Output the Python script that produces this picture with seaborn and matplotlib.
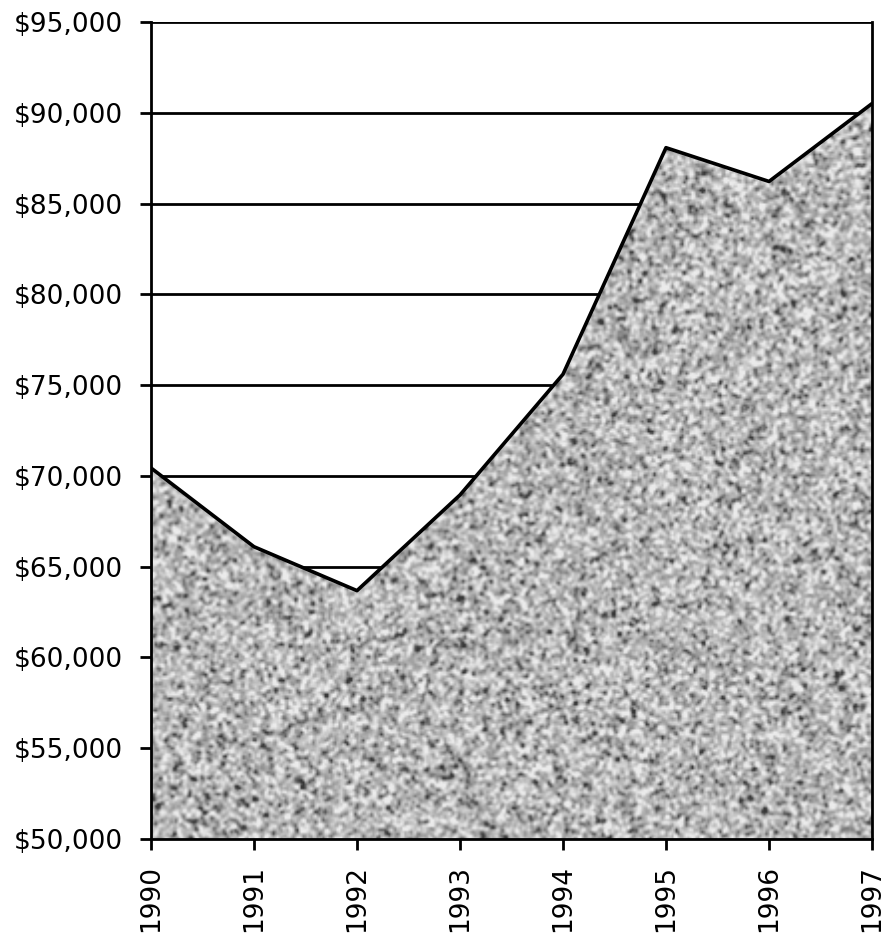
import numpy as np
import pandas as pd
import seaborn as sns
import matplotlib.pyplot as plt
from matplotlib.ticker import FuncFormatter

# Values
years = [1990, 1991, 1992, 1993, 1994, 1995, 1996, 1997]
income = [70440, 66100, 63680, 68950, 75600, 88080, 86220, 90510]

df = pd.DataFrame({'year': years, 'income': income})

sns.set_style('white')
plt.rcParams['font.family'] = ['DejaVu Sans']

fig = plt.figure(figsize=(8.88, 9.39), dpi=100)
ax = fig.add_axes([0.170, 0.1065, 0.812, 0.870])

ymin, ymax = 50000, 95000
ax.set_xlim(years[0], years[-1])
ax.set_ylim(ymin, ymax)

# horizontal grid lines behind the area
ax.set_axisbelow(True)
ax.yaxis.grid(True, color='black', linewidth=2)
ax.xaxis.grid(False)

# granite-like texture clipped to the area
rng = np.random.default_rng(7)
h, w = 410, 362
noise = rng.standard_normal((h, w))
k = np.array([[1, 2, 1], [2, 4, 2], [1, 2, 1]]) / 16.0
pad = np.pad(noise, 1, mode='wrap')
blur = sum(pad[i:i + h, j:j + w] * k[i, j] for i in range(3) for j in range(3))
z = (blur - blur.mean()) / blur.std()
tex = 0.71 + 0.12 * z - 0.10 * np.clip(-z - 1.0, 0, None)
tex = np.clip(tex, 0.22, 0.92)
poly = ax.fill_between(df['year'], df['income'], ymin, color='none', zorder=2)
img = ax.imshow(tex, cmap='gray', vmin=0, vmax=1, aspect='auto',
                extent=[years[0], years[-1], ymin, ymax], zorder=2,
                interpolation='bilinear')
img.set_clip_path(poly.get_paths()[0], transform=ax.transData)

sns.lineplot(data=df, x='year', y='income', color='black', linewidth=2.6,
             ax=ax, zorder=3)

ax.set_xticks(years)
ax.set_xticklabels([str(y) for y in years], rotation=90)
ax.set_yticks(np.arange(ymin, ymax + 1, 5000))
ax.yaxis.set_major_formatter(FuncFormatter(lambda v, p: f'${v:,.0f}'))
ax.tick_params(axis='both', which='major', direction='out', length=8, width=2,
               color='black', labelcolor='black', labelsize=19, pad=11,
               left=True, bottom=True)
ax.tick_params(axis='y', pad=12)
ax.set_xlabel('')
ax.set_ylabel('')

for side in ['left', 'bottom', 'right']:
    ax.spines[side].set_visible(True)
    ax.spines[side].set_color('black')
    ax.spines[side].set_linewidth(2)
    ax.spines[side].set_zorder(4)
ax.spines['top'].set_visible(False)

fig.savefig('out.png', dpi=100)
